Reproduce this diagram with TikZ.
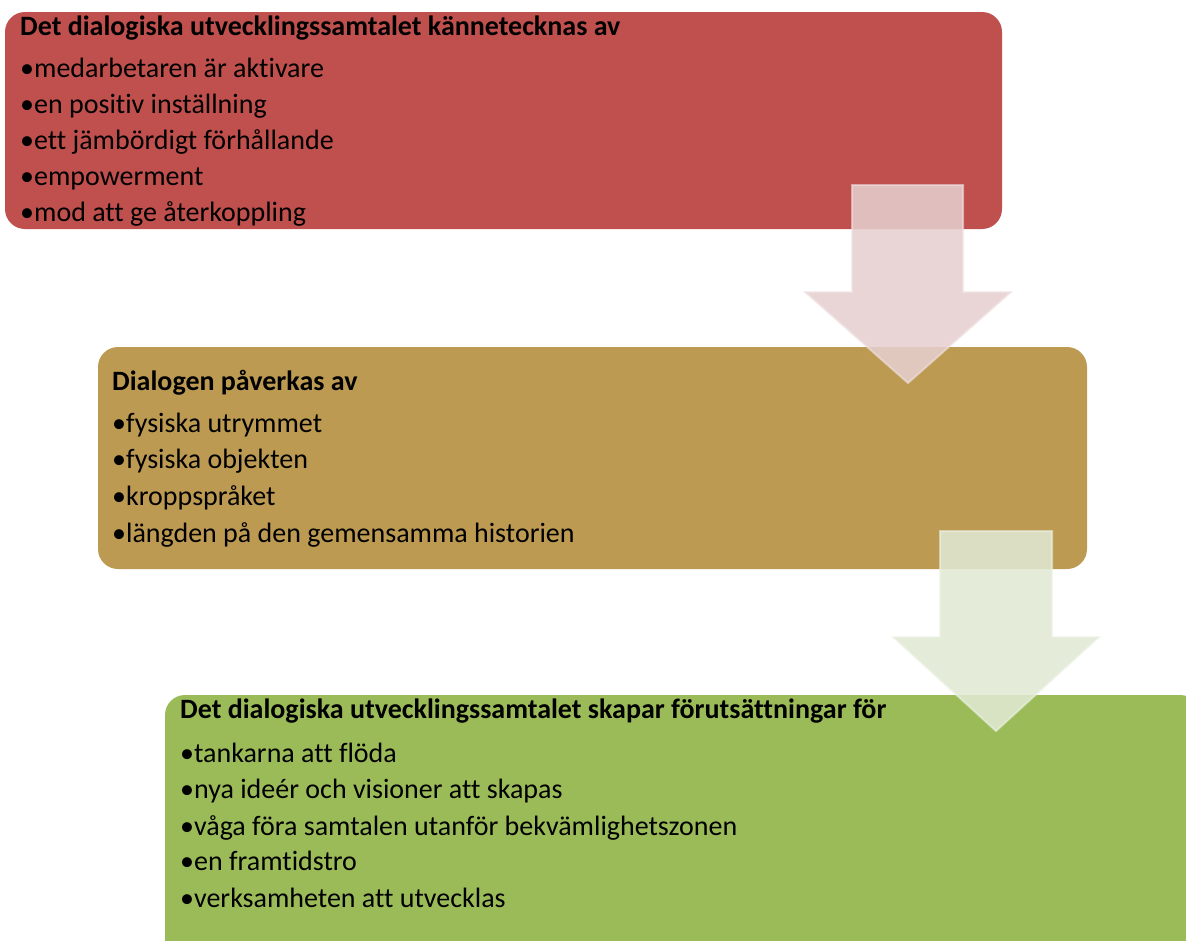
\documentclass[tikz,border=0pt]{standalone}
\usepackage{fontspec}
\setmainfont[Ligatures=NoCommon]{Carlito}
\definecolor{boxred}{HTML}{C0504D}
\definecolor{boxtan}{HTML}{BD9A52}
\definecolor{boxgreen}{HTML}{9BBB59}
\definecolor{arrowpink}{RGB}{230,207,207}
\definecolor{arrowgreen}{RGB}{224,233,211}
\tikzset{
  panel/.style={rounded corners=20pt},
  bigarrow/.style={line width=2pt, line join=miter, fill opacity=0.87, draw opacity=0.6},
  headtxt/.style={anchor=base west, inner sep=0pt, font=\fontsize{28}{33}\selectfont\bfseries},
  itemtxt/.style={anchor=base west, inner sep=0pt, font=\fontsize{28}{34}\selectfont},
}
\begin{document}
\begin{tikzpicture}[x=1pt,y=-1pt]
\useasboundingbox (0,0) rectangle (1186,940);
\clip (0,0) rectangle (1186,940);

% panels
\fill[boxred, panel] (5,12) rectangle (1002,229);
\fill[boxtan, panel] (98,347) rectangle (1087,569);

% first arrow, over the upper panels
\path[bigarrow, fill=arrowpink, draw=white!40!arrowpink]
  (852,185) -- (963,185) -- (963,292) -- (1011,292) -- (908,383)
  -- (805,292) -- (852,292) -- cycle;

\fill[boxgreen, panel] (165,695) rectangle (1200,960);

% second arrow
\path[bigarrow, fill=arrowgreen, draw=white!40!arrowgreen]
  (940,531) -- (1052,531) -- (1052,637) -- (1099,637) -- (996,731)
  -- (893,637) -- (940,637) -- cycle;

% texts of the first panel
\node[headtxt] (h1) at (20,35) {Det dialogiska utvecklingssamtalet kännetecknas av};
\node[itemtxt] (a1) at (20,77) {•medarbetaren är aktivare};
\node[itemtxt] (a2) at (20,113) {•en positiv inställning};
\node[itemtxt] (a3) at (20,149) {•ett jämbördigt förhållande};
\node[itemtxt] (a4) at (20,185) {•empowerment};
\node[itemtxt] (a5) at (20,221) {•mod att ge återkoppling};

% texts of the second panel
\node[headtxt] (h2) at (112,390) {Dialogen påverkas av};
\node[itemtxt] (b1) at (112,432) {•fysiska utrymmet};
\node[itemtxt] (b2) at (112,468) {•fysiska objekten};
\node[itemtxt] (b3) at (112,505) {•kroppspråket};
\node[itemtxt] (b4) at (112,542) {•längden på den gemensamma historien};

% texts of the third panel
\node[headtxt] (h3) at (180,718) {Det dialogiska utvecklingssamtalet skapar förutsättningar för};
\node[itemtxt] (c1) at (180,762) {•tankarna att flöda};
\node[itemtxt] (c2) at (180,798) {•nya ideér och visioner att skapas};
\node[itemtxt] (c3) at (180,835) {•våga föra samtalen utanför bekvämlighetszonen};
\node[itemtxt] (c4) at (180,870) {•en framtidstro};
\node[itemtxt] (c5) at (180,907) {•verksamheten att utvecklas};
\end{tikzpicture}
\end{document}
